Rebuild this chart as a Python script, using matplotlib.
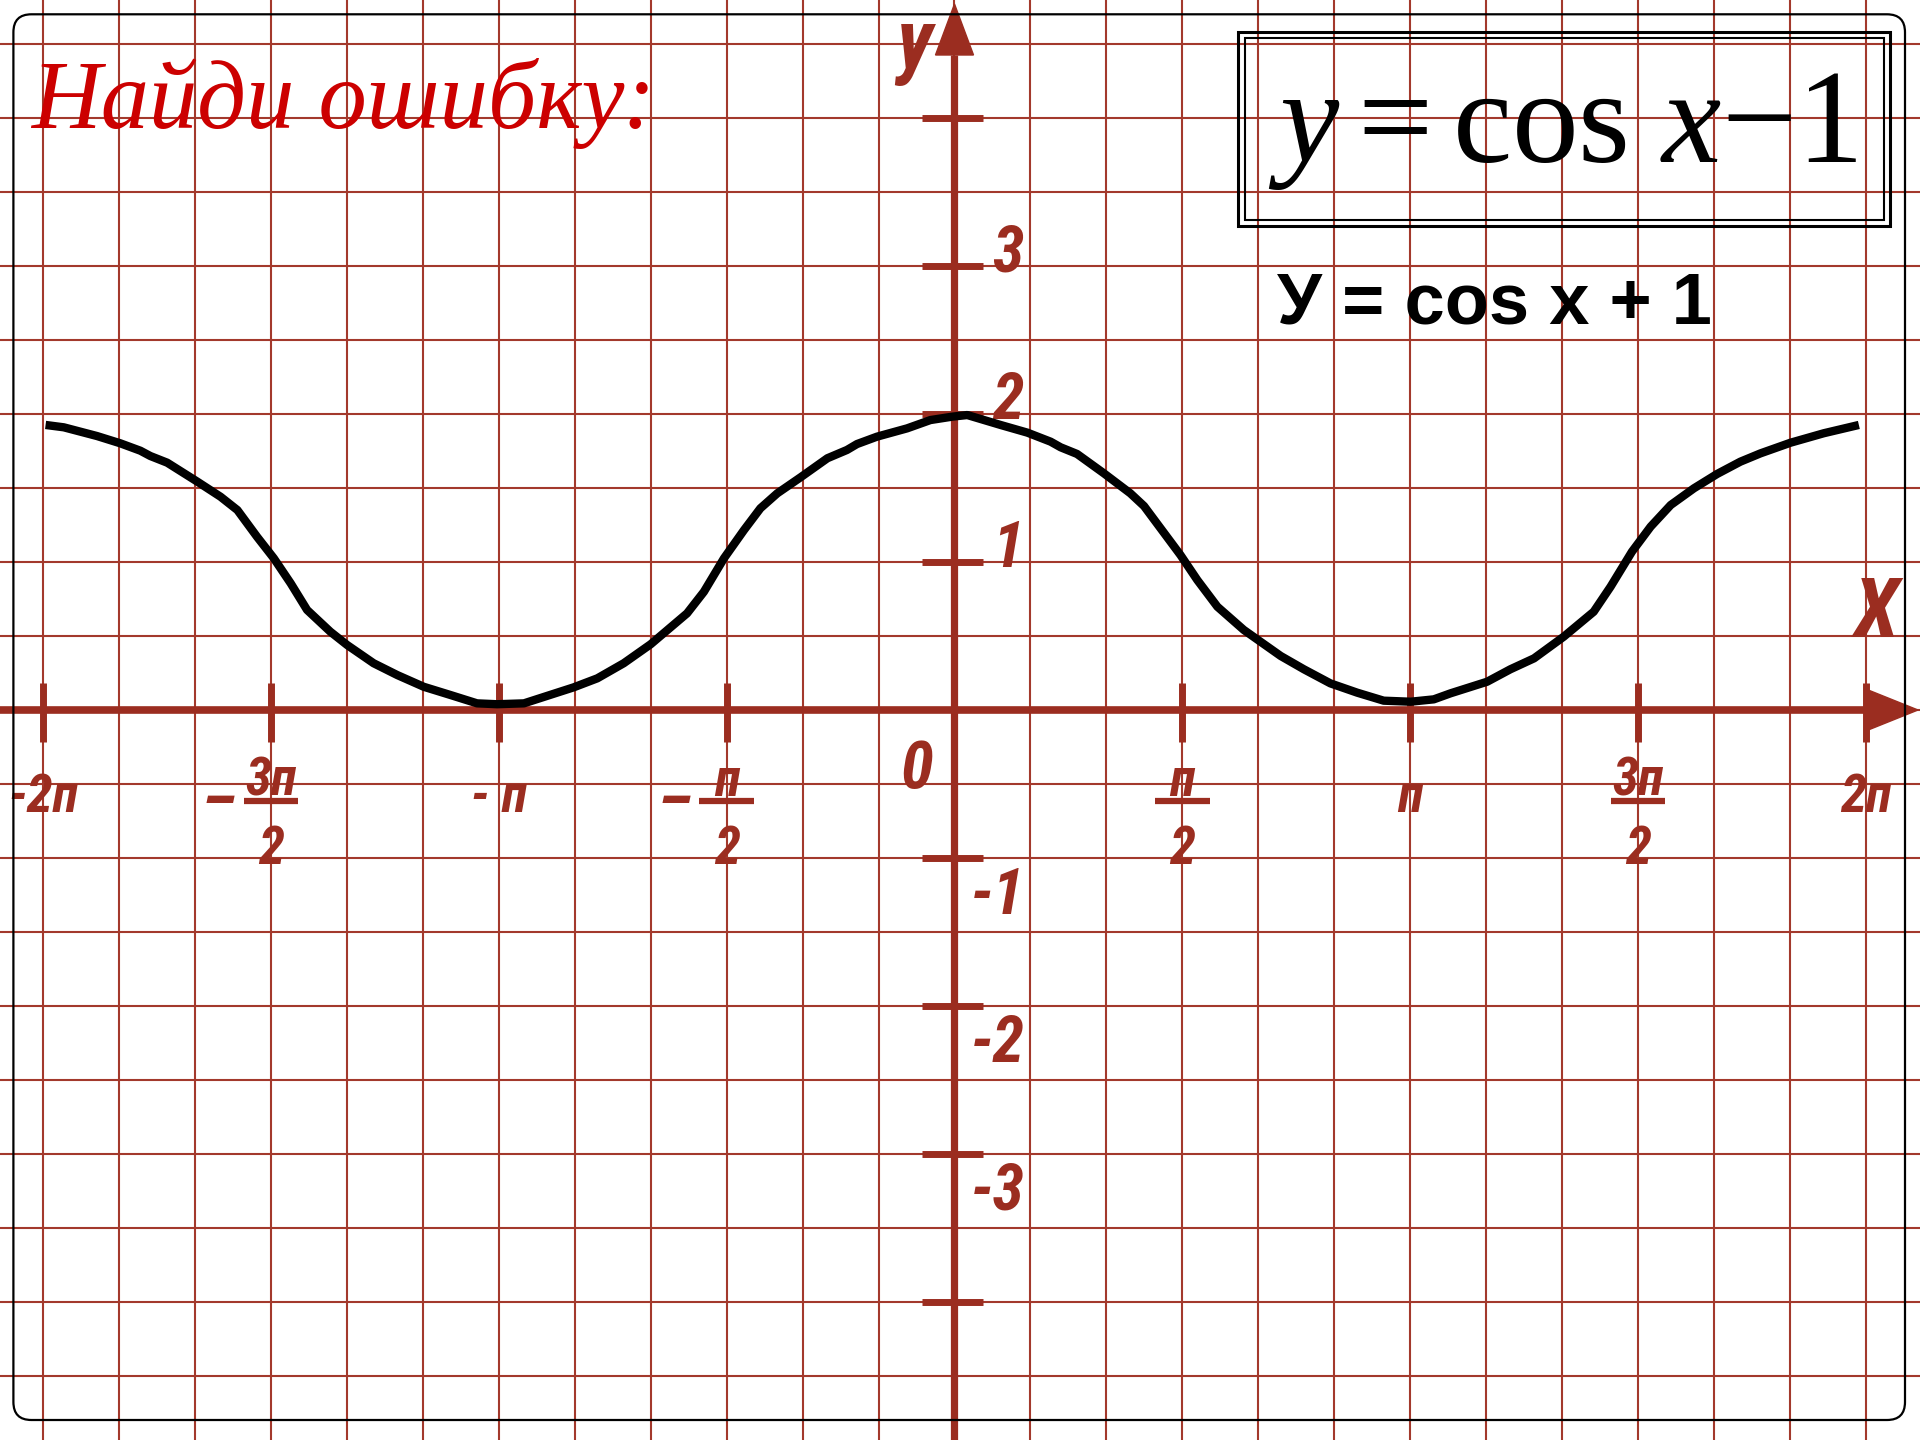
import os

import matplotlib
matplotlib.use("Agg")
import matplotlib.pyplot as plt
import numpy as np
from matplotlib import font_manager
from matplotlib.font_manager import FontProperties
from matplotlib.patches import FancyBboxPatch, Polygon, Rectangle
from matplotlib.transforms import IdentityTransform


# hand drawn curve, x in units of pi
curve_x = [-1.995, -1.955, -1.882, -1.831, -1.787, -1.765, -1.728, -1.662, -1.611, -1.574,
           -1.531, -1.494, -1.457, -1.421, -1.370, -1.333, -1.275, -1.223, -1.165, -1.106,
           -1.048, -1.004, -0.945, -0.836, -0.784, -0.726, -0.667, -0.587, -0.550, -0.506,
           -0.462, -0.426, -0.389, -0.338, -0.279, -0.236, -0.214, -0.170, -0.104, -0.053,
           -0.005, 0.028, 0.101, 0.160, 0.211, 0.233, 0.269, 0.328, 0.386, 0.416,
           0.496, 0.533, 0.577, 0.635, 0.716, 0.767, 0.825, 0.884, 0.942, 1.001,
           1.052, 1.089, 1.169, 1.220, 1.272, 1.337, 1.403, 1.440, 1.487, 1.528,
           1.572, 1.623, 1.674, 1.725, 1.769, 1.835, 1.908, 1.985]
curve_y = [1.926, 1.910, 1.851, 1.802, 1.752, 1.716, 1.671, 1.543, 1.441, 1.351,
           1.171, 1.025, 0.856, 0.676, 0.529, 0.439, 0.316, 0.236, 0.157, 0.101,
           0.045, 0.039, 0.045, 0.153, 0.214, 0.316, 0.444, 0.653, 0.799, 1.025,
           1.216, 1.363, 1.464, 1.572, 1.701, 1.757, 1.797, 1.847, 1.903, 1.959,
           1.982, 1.993, 1.926, 1.874, 1.813, 1.775, 1.730, 1.599, 1.464, 1.378,
           1.047, 0.878, 0.698, 0.541, 0.365, 0.275, 0.180, 0.117, 0.063, 0.056,
           0.072, 0.113, 0.191, 0.275, 0.349, 0.495, 0.664, 0.833, 1.070, 1.239,
           1.385, 1.498, 1.595, 1.678, 1.734, 1.806, 1.870, 1.926]

x_ticks = [-2, -1.5, -1, -0.5, 0.5, 1, 1.5, 2]
x_simple_ticks = [-2, -1, 1, 2]
x_simple_labels = ["-2п", "- п", "п", "2п"]
x_frac_ticks = [-1.5, -0.5, 0.5, 1.5]
x_frac_num = ["3п", "п", "п", "3п"]
x_frac_den = ["2", "2", "2", "2"]
x_frac_sign = ["–", "–", "", ""]

y_ticks = [-4, -3, -2, -1, 1, 2, 3, 4]
y_label_values = [3, 2, 1, -1, -2, -3]
y_label_texts = ["3", "2", "1", "-1", "-2", "-3"]

title_text = "Найди ошибку:"
task_formula = r"$y{=}\mathrm{cos}\ x{-}1$"
answer_text = "У = cos x + 1"

AXIS_COLOR = "#9B2D20"
GRID_COLOR = "#A3392C"
TITLE_COLOR = "#CC0000"

# pixel layout of the slide (1920x1440)
W, H = 1920, 1440
X0_PX, PX_PER_PI = 954.5, 455.6
Y0_PX, PX_PER_UNIT = 710.0, 148.0


def find_narrow_font():
    paths = [f.fname for f in font_manager.fontManager.ttflist]
    wanted = ["liberationsansnarrow-bolditalic", "robotocondensed-bolditalic",
              "dejavusanscondensed-boldoblique"]
    for w in wanted:
        for p in paths:
            if os.path.basename(p).lower().startswith(w):
                return FontProperties(fname=p)
    for p in paths:
        b = os.path.basename(p).lower()
        if ("condensed" in b or "narrow" in b) and "bold" in b and ("italic" in b or "oblique" in b):
            return FontProperties(fname=p)
    return FontProperties(family="Liberation Sans", weight="bold", style="italic")


NARROW = find_narrow_font()


def narrow(size):
    fp = NARROW.copy()
    fp.set_size(size)
    return fp


def px(xp):
    return (xp - X0_PX)/PX_PER_PI


def py(yp):
    return (Y0_PX - yp)/PX_PER_UNIT


plt.rcParams["mathtext.fontset"] = "custom"
plt.rcParams["mathtext.rm"] = "Liberation Serif"
plt.rcParams["mathtext.it"] = "Liberation Serif:italic"

fig = plt.figure(figsize=(19.2, 14.4), dpi=100)
ax = fig.add_axes([0, 0, 1, 1])
ax.set_xlim(px(0), px(W))
ax.set_ylim(py(H), py(0))
ax.axis("off")

# slide border
border = FancyBboxPatch((13.4, H - 1420), 1905 - 13.4, 1420 - 14.3,
                        boxstyle="round,pad=0,rounding_size=18",
                        transform=IdentityTransform(), fill=False,
                        edgecolor="black", linewidth=1.6, zorder=0.5)
fig.patches.append(border)

# grid: pi/6 by 0.5
for gx in np.arange(-12, 13)/6:
    ax.axvline(gx, color=GRID_COLOR, lw=1.5, zorder=1)
for gy in np.arange(-9, 10)*0.5:
    ax.axhline(gy, color=GRID_COLOR, lw=1.5, zorder=1)

# axes with arrows
x_tip, x_base = px(1918), 2.0
y_tip, y_base = py(4), py(55)
ax.plot([px(0), x_base], [0, 0], color=AXIS_COLOR, lw=5.5, solid_capstyle="butt", zorder=3)
ax.plot([0, 0], [py(H), y_base], color=AXIS_COLOR, lw=5.2, solid_capstyle="butt", zorder=3)
ax.add_patch(Polygon([[x_base, 21/PX_PER_UNIT], [x_tip, 0], [x_base, -21/PX_PER_UNIT]],
                     closed=True, color=AXIS_COLOR, zorder=3))
ax.add_patch(Polygon([[-19/PX_PER_PI, y_base], [0, y_tip], [19/PX_PER_PI, y_base]],
                     closed=True, color=AXIS_COLOR, zorder=3))

for t in x_ticks:
    ax.plot([t, t], [py(742), py(683)], color=AXIS_COLOR, lw=5, solid_capstyle="butt", zorder=3)
for t in y_ticks:
    ax.plot([px(922), px(983)], [t, t], color=AXIS_COLOR, lw=5, solid_capstyle="butt", zorder=3)

# tick labels
for t, lab in zip(x_simple_ticks, x_simple_labels):
    ax.text(t, py(812), lab, fontproperties=narrow(38), color=AXIS_COLOR,
            ha="center", va="baseline", zorder=4)
for t, num, den, sign in zip(x_frac_ticks, x_frac_num, x_frac_den, x_frac_sign):
    ax.text(t, py(796), num, fontproperties=narrow(38), color=AXIS_COLOR,
            ha="center", va="baseline", zorder=4)
    ax.text(t, py(864), den, fontproperties=narrow(38), color=AXIS_COLOR,
            ha="center", va="baseline", zorder=4)
    ax.plot([t - 0.06, t + 0.06], [py(801), py(801)], color=AXIS_COLOR, lw=4.5,
            solid_capstyle="butt", zorder=4)
    if sign:
        ax.text(t - 0.115, py(822), sign, fontproperties=narrow(46), color=AXIS_COLOR,
                ha="center", va="baseline", zorder=4)

for v, lab in zip(y_label_values, y_label_texts):
    if v > 0:
        ax.text(px(1008), v - 5/PX_PER_UNIT, lab, fontproperties=narrow(46),
                color=AXIS_COLOR, ha="center", va="baseline", zorder=4)
    else:
        ax.text(px(998), v - 56/PX_PER_UNIT, lab, fontproperties=narrow(46),
                color=AXIS_COLOR, ha="center", va="baseline", zorder=4)

ax.text(px(917), py(788), "0", fontproperties=narrow(48), color=AXIS_COLOR,
        ha="center", va="baseline", zorder=4)
ax.text(px(1876), py(637), "X", fontproperties=narrow(60), color=AXIS_COLOR,
        ha="center", va="baseline", zorder=4)
ax.text(px(914), py(68), "y", fontproperties=narrow(60), color=AXIS_COLOR,
        ha="center", va="baseline", zorder=4)

# the wrong graph
ax.plot(curve_x, curve_y, color="black", lw=6, solid_joinstyle="round",
        solid_capstyle="butt", zorder=5)

# texts
fig.text(31/W, 1 - 128/H, title_text, family="Liberation Serif", style="italic",
         fontsize=69.5, color=TITLE_COLOR, ha="left", va="baseline")
fig.text(1562.5/W, 1 - 161.7/H, task_formula, fontsize=96, color="black",
         ha="center", va="baseline")
fig.text(1277/W, 1 - 323/H, answer_text, family="Liberation Sans", weight="bold",
         fontsize=52, color="black", ha="left", va="baseline")

# double frame round the task
fig.patches.append(Rectangle((1237.9, H - 226), 1889.6 - 1237.9, 226 - 32.3,
                             transform=IdentityTransform(), fill=False,
                             edgecolor="black", linewidth=2.2, zorder=6))
fig.patches.append(Rectangle((1244.6, H - 220), 1884.3 - 1244.6, 220 - 38.3,
                             transform=IdentityTransform(), fill=False,
                             edgecolor="black", linewidth=1.5, zorder=6))

fig.savefig("out.png", dpi=100)
plt.close(fig)
